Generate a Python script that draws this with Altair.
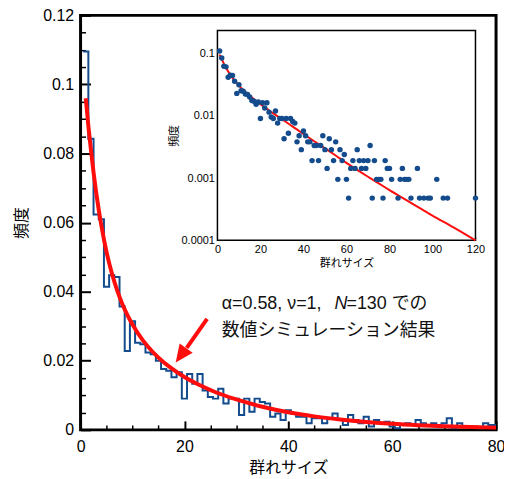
import altair as alt
import pandas as pd

# ---------------- data ----------------
SIZES = list(range(1, 121))
COUNTS = [230, 177, 131, 128, 87, 94, 93, 75, 48, 66,
          53, 52, 47, 46, 42, 37, 36, 32, 35, 19,
          34, 28, 34, 24, 20, 19, 25, 16, 19, 19,
          9, 19, 11, 19, 17, 16, 8, 10, 6, 12,
          10, 8, 8, 4, 7, 7, 4, 7, 10, 6,
          3, 9, 6, 4, 8, 2, 6, 4, 5, 2,
          1, 3, 4, 3, 6, 4, 3, 4, 3, 4,
          7, 1, 4, 2, 2, 2, 1, 4, 3, 3,
          2, 0, 0, 1, 2, 3, 2, 2, 2, 1,
          0, 0, 3, 1, 0, 1, 0, 1, 1, 0,
          0, 2, 0, 0, 1, 0, 1, 0, 0, 0,
          0, 0, 0, 0, 0, 0, 0, 0, 0, 1]
TOTAL = 2100

FIT_N = [1, 1.5, 2, 2.5, 3, 3.5, 4, 5, 6, 7, 8, 9, 10, 12, 14, 16, 18, 20, 23, 26,
         30, 35, 40, 45, 50, 55, 60, 65, 70, 75, 80, 90, 100, 110, 120]
FIT_V = [0.096, 0.088, 0.081, 0.0745, 0.0688, 0.0637, 0.0592, 0.0515, 0.0455, 0.0406,
         0.0366, 0.0333, 0.0305, 0.0259, 0.0224, 0.0196, 0.0173, 0.0153, 0.0129, 0.0109,
         0.0088, 0.0067, 0.0051, 0.0039, 0.0030, 0.0023, 0.00175, 0.00135, 0.00105, 0.00082,
         0.00064, 0.00040, 0.00025, 0.00016, 0.0001]

MAIN_X_DOMAIN = [0, 80]
MAIN_Y_DOMAIN = [0, 0.12]
MAIN_X_MAJOR = [0, 20, 40, 60, 80]
MAIN_X_MINOR = [5, 10, 15, 25, 30, 35, 45, 50, 55, 65, 70, 75]
MAIN_Y_MAJOR = [0, 0.02, 0.04, 0.06, 0.08, 0.1, 0.12]
MAIN_Y_MINOR = [0.005, 0.01, 0.015, 0.025, 0.03, 0.035, 0.045, 0.05, 0.055,
                0.065, 0.07, 0.075, 0.085, 0.09, 0.095, 0.105, 0.11, 0.115]

INSET_X_DOMAIN = [0, 120]
INSET_Y_DOMAIN = [0.0001, 0.233]
INSET_X_MAJOR = [0, 20, 40, 60, 80, 100, 120]
INSET_X_MINOR = [10, 30, 50, 70, 90, 110]
INSET_Y_MAJOR = [0.0001, 0.001, 0.01, 0.1]
INSET_Y_MINOR = [0.0002, 0.0003, 0.0004, 0.0005, 0.0006, 0.0007, 0.0008, 0.0009,
                 0.002, 0.003, 0.004, 0.005, 0.006, 0.007, 0.008, 0.009,
                 0.02, 0.03, 0.04, 0.05, 0.06, 0.07, 0.08, 0.09, 0.2]

LINE1_A = "α=0.58, ν=1, "
LINE1_N = "N"
LINE1_B = "=130 での"
LINE2 = "数値シミュレーション結果"

# ---------------- styling ----------------
BLUE = "#134b8c"
RED = "#ff0d0d"
LATIN = "Liberation Sans"
CJK = "Noto Sans CJK JP"
MIXED = "Liberation Sans, Noto Sans CJK JP"
PLAIN = "toString(datum.value)"

W, H = 418, 417
# inset placement (pixels inside the main plot area)
IX0, IX1 = 137.7, 397.3
IY0, IY1 = 226.3, 15.3

# ---------------- tables ----------------
main_n = SIZES[:80]
freq = [c / TOTAL for c in COUNTS]
hist_df = pd.DataFrame({
    "edge": [n - 0.5 for n in main_n] + [main_n[-1] + 0.5],
    "freq": freq[:80] + [freq[79]],
})
fit_df = pd.DataFrame({"n": FIT_N, "v": FIT_V})
fit_main_df = fit_df[fit_df["n"] <= MAIN_X_DOMAIN[1]]
pts_df = pd.DataFrame({"n": SIZES, "v": freq})
pts_df = pts_df[pts_df["v"] > 0]

# ---------------- main panel ----------------
mx = alt.Scale(domain=MAIN_X_DOMAIN, nice=False, zero=False)
my = alt.Scale(domain=MAIN_Y_DOMAIN, nice=False)

ax_x_major = alt.Axis(orient="bottom", values=MAIN_X_MAJOR, tickSize=9, offset=-9, tickWidth=2,
                      labelFontSize=16, labelPadding=9, labelExpr=PLAIN, labelFlush=False,
                      title="群れサイズ", titleFontSize=16, titlePadding=5)
ax_x_minor = alt.Axis(orient="bottom", values=MAIN_X_MINOR, tickSize=5, offset=-5, tickWidth=1.5,
                      labels=False, title=None)
ax_y_major = alt.Axis(orient="left", values=MAIN_Y_MAJOR, tickSize=10, offset=-10, tickWidth=2,
                      labelFontSize=16, labelPadding=7, labelExpr=PLAIN, labelFlush=False,
                      title="頻度", titleFontSize=16, titlePadding=13)
ax_y_minor = alt.Axis(orient="left", values=MAIN_Y_MINOR, tickSize=5, offset=-5, tickWidth=1.5,
                      labels=False, title=None)

hist = alt.Chart(hist_df).mark_line(interpolate="step-after", color=BLUE, strokeWidth=2, clip=True).encode(
    x=alt.X("edge:Q", scale=mx, axis=ax_x_major),
    y=alt.Y("freq:Q", scale=my, axis=ax_y_major),
)
curve = alt.Chart(fit_main_df).mark_line(interpolate="monotone", color=RED, strokeWidth=4, clip=True).encode(
    x=alt.X("n:Q", scale=mx, axis=ax_x_minor),
    y=alt.Y("v:Q", scale=my, axis=ax_y_minor),
)

one = pd.DataFrame({"k": [0]})
shaft = alt.Chart(one).mark_rule(color=RED, strokeWidth=4).encode(
    x=alt.value(127.3), y=alt.value(305.3), x2=alt.value(106.8), y2=alt.value(334.5))
head = alt.Chart(one).mark_point(shape="M0,-1L0.72,0.6L-0.72,0.6Z", filled=True, color=RED,
                                 opacity=1, size=506, angle=215.7).encode(
    x=alt.value(102.3), y=alt.value(340.2))


def txt(s, x, y, style="normal"):
    return alt.Chart(pd.DataFrame({"t": [s]})).mark_text(
        align="left", baseline="alphabetic", font=MIXED, fontSize=18, fontStyle=style, color="#111111"
    ).encode(text="t:N", x=alt.value(x), y=alt.value(y))


t1 = txt(LINE1_A, 142, 295)
t2 = txt(LINE1_N, 255.5, 295, "italic")
t3 = txt(LINE1_B, 267.5, 295)
t4 = txt(LINE2, 142, 323)

main = alt.layer(hist, curve, shaft, head, t1, t2, t3, t4).resolve_axis(x="independent", y="independent")

# ---------------- inset panel ----------------
ix = alt.Scale(domain=INSET_X_DOMAIN, range=[IX0, IX1], nice=False, zero=False)
iy = alt.Scale(type="log", domain=INSET_Y_DOMAIN, range=[IY0, IY1], nice=False)

bx = -(H - IY0)
ax_ix_major = alt.Axis(orient="bottom", values=INSET_X_MAJOR, tickSize=4, offset=bx - 4, tickWidth=1,
                       labelFontSize=11, labelPadding=3, labelExpr=PLAIN, labelFlush=False,
                       title="群れサイズ", titleFontSize=11, titlePadding=3)
ax_ix_minor = alt.Axis(orient="bottom", values=INSET_X_MINOR, tickSize=2.5, offset=bx - 2.5, tickWidth=1,
                       labels=False, title=None)
ax_iy_major = alt.Axis(orient="left", values=INSET_Y_MAJOR, tickSize=5, offset=-IX0 - 5, tickWidth=1,
                       labelFontSize=11, labelPadding=3, labelExpr=PLAIN, labelFlush=False,
                       title="頻度", titleFontSize=11, titlePadding=2)
ax_iy_minor = alt.Axis(orient="left", values=INSET_Y_MINOR, tickSize=2.5, offset=-IX0 - 2.5, tickWidth=1,
                       labels=False, title=None)

frame_df = pd.DataFrame({"x0": [INSET_X_DOMAIN[0]], "x1": [INSET_X_DOMAIN[1]],
                         "y0": [INSET_Y_DOMAIN[0]], "y1": [INSET_Y_DOMAIN[1]]})
frame = alt.Chart(frame_df).mark_rect(fill="white", stroke="black", strokeWidth=1.5).encode(
    x=alt.X("x0:Q", scale=ix, axis=None), x2="x1:Q",
    y=alt.Y("y0:Q", scale=iy, axis=None), y2="y1:Q",
)
iline = alt.Chart(fit_df).mark_line(interpolate="monotone", color=RED, strokeWidth=2, clip=False).encode(
    x=alt.X("n:Q", scale=ix, axis=ax_ix_minor),
    y=alt.Y("v:Q", scale=iy, axis=ax_iy_minor),
)
ipts = alt.Chart(pts_df).mark_circle(color=BLUE, size=30, opacity=1).encode(
    x=alt.X("n:Q", scale=ix, axis=ax_ix_major),
    y=alt.Y("v:Q", scale=iy, axis=ax_iy_major),
)
inset = alt.layer(frame, iline, ipts).resolve_axis(x="independent", y="independent")

chart = alt.layer(main, inset).resolve_scale(x="independent", y="independent").properties(
    width=W, height=H,
    padding={"left": 73, "top": 6, "right": 8, "bottom": 48},
    autosize=alt.AutoSizeParams(type="none"),
).configure_view(stroke="black", strokeWidth=3).configure_axis(
    grid=False, domain=False, labelFont=LATIN, titleFont=CJK, labelColor="black",
    titleColor="black", tickColor="black", titleFontWeight="normal",
)

chart.save("out.html", embed_options={"renderer": "svg", "actions": False})
